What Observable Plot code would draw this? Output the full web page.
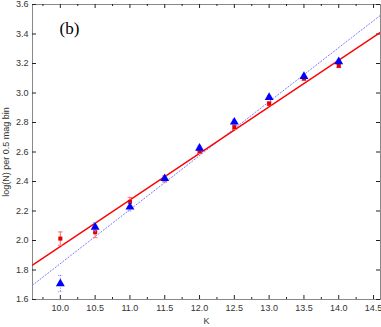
<!DOCTYPE html>
<html><head><meta charset="utf-8">
<script src="https://cdn.jsdelivr.net/npm/d3@7"></script>
<script src="https://cdn.jsdelivr.net/npm/@observablehq/plot@0.6"></script>
<style>body{margin:0;background:#fff}svg{display:block}</style>
</head><body><div id="chart"></div>
<script>
const kBins = [10.0, 10.5, 11.0, 11.5, 12.0, 12.5, 13.0, 13.5, 14.0];
const redLogN = [2.013, 2.056, 2.262, 2.416, 2.605, 2.768, 2.928, 3.098, 3.184];
const redErr = [0.045, 0.037, 0.03, 0.02, 0.015, 0.015, 0.013, 0.012, 0.012];
const blueLogN = [1.708, 2.090, 2.227, 2.420, 2.626, 2.803, 2.970, 3.112, 3.212];
const blueErr = [0.055, 0.03, 0.027, 0.02, 0.015, 0.015, 0.013, 0.012, 0.012];
const fitK = [9.6, 14.6];
const redFit = [1.833, 3.412];
const blueFit = [1.697, 3.527];
const xTicks = [10.0, 10.5, 11.0, 11.5, 12.0, 12.5, 13.0, 13.5, 14.0, 14.5];
const xMinor = [9.75, 10.25, 10.75, 11.25, 11.75, 12.25, 12.75, 13.25, 13.75, 14.25];
const yTicks = [1.6, 1.8, 2.0, 2.2, 2.4, 2.6, 2.8, 3.0, 3.2, 3.4, 3.6];

const red = kBins.map((k,i)=>({k, v: redLogN[i], e: redErr[i]}));
const blue = kBins.map((k,i)=>({k, v: blueLogN[i], e: blueErr[i]}));
const redLine = fitK.map((k,i)=>({k, v: redFit[i]}));
const blueLine = fitK.map((k,i)=>({k, v: blueFit[i]}));

const W = 381, H = 327, mL = 32, mR = 1, mT = 4, mB = 28;
const ph = H - mT - mB, pw = W - mL - mR;
const tick = "#222";
const plot = Plot.plot({
  width: W, height: H,
  marginLeft: mL, marginRight: mR, marginTop: mT, marginBottom: mB,
  style: {fontFamily: "Liberation Sans, Arial, sans-serif", fontSize: "9px", color: "#222", background: "#fff"},
  x: {domain: [9.6, 14.6]},
  y: {domain: [1.6, 3.6]},
  marks: [
    Plot.frame({stroke: "#888", strokeWidth: 1}),
    // inward ticks
    Plot.ruleX(xTicks, {stroke: tick, insetTop: ph - 4}),
    Plot.ruleX(xTicks, {stroke: tick, insetBottom: ph - 4}),
    Plot.ruleX(xMinor, {stroke: tick, insetTop: ph - 2}),
    Plot.ruleX(xMinor, {stroke: tick, insetBottom: ph - 2}),
    Plot.ruleY(yTicks, {stroke: tick, insetRight: pw - 4}),
    Plot.ruleY(yTicks, {stroke: tick, insetLeft: pw - 4}),
    Plot.axisX(xTicks, {anchor: "bottom", tickSize: 0, tickPadding: 5, tickFormat: d3.format(".1f"), label: "K", labelAnchor: "center", labelArrow: "none", labelOffset: 24, fontSize: 9, fill: "#333"}),
    Plot.axisY(yTicks, {anchor: "left", tickSize: 0, tickPadding: 4, tickFormat: d3.format(".1f"), label: "log(N) per 0.5 mag bin", labelAnchor: "center", labelArrow: "none", labelOffset: 30, fontSize: 9, fill: "#333"}),
    Plot.line(blueLine, {x: "k", y: "v", stroke: "#7c7cff", strokeWidth: 1, strokeDasharray: "1.2,2", clip: true}),
    Plot.line(redLine, {x: "k", y: "v", stroke: "#ff0000", strokeWidth: 1.4, clip: true}),
    Plot.ruleX(red, {x: "k", y1: d=>d.v-d.e, y2: d=>d.v+d.e, stroke: "#ff7070", strokeWidth: 1}),
    Plot.link(red, {x1: d=>d.k-0.035, x2: d=>d.k+0.035, y1: d=>d.v-d.e, y2: d=>d.v-d.e, stroke: "#ff7070", strokeWidth: 1}),
    Plot.link(red, {x1: d=>d.k-0.035, x2: d=>d.k+0.035, y1: d=>d.v+d.e, y2: d=>d.v+d.e, stroke: "#ff7070", strokeWidth: 1}),
    Plot.dot(red, {x: "k", y: "v", r: 2.3, fill: "#e00000", symbol: "square"}),
    Plot.ruleX(blue, {x: "k", y1: d=>d.v-d.e, y2: d=>d.v+d.e, stroke: "#7c7cff", strokeWidth: 1, strokeDasharray: "1,1.5"}),
    Plot.link(blue, {x1: d=>d.k-0.03, x2: d=>d.k+0.03, y1: d=>d.v-d.e, y2: d=>d.v-d.e, stroke: "#7c7cff", strokeWidth: 1, strokeDasharray: "1,1"}),
    Plot.link(blue, {x1: d=>d.k-0.03, x2: d=>d.k+0.03, y1: d=>d.v+d.e, y2: d=>d.v+d.e, stroke: "#7c7cff", strokeWidth: 1, strokeDasharray: "1,1"}),
    Plot.dot(blue, {x: "k", y: "v", r: 3.3, fill: "#0000ff", symbol: "triangle"}),
    Plot.text(["(b)"], {frameAnchor: "top-left", dx: 27, dy: 17, fontFamily: "Liberation Serif, Times New Roman, serif", fontSize: 17, fill: "#000"})
  ]
});
document.getElementById("chart").appendChild(plot);
</script></body></html>
